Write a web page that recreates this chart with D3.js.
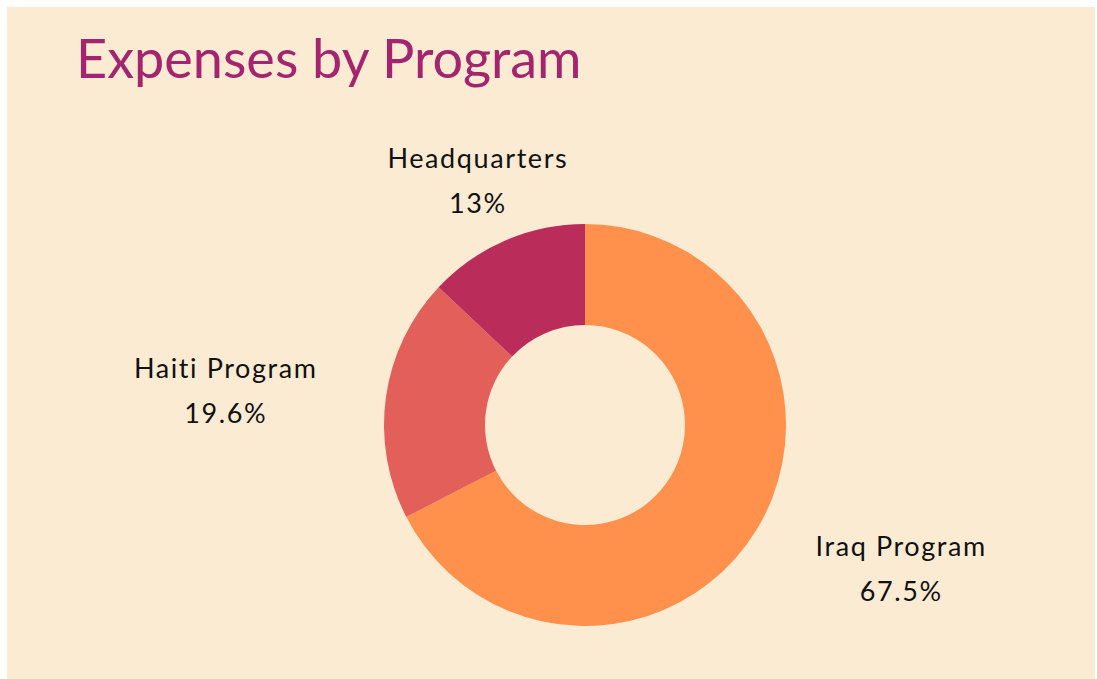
<!DOCTYPE html>
<html>
<head>
<meta charset="utf-8">
<script src="https://cdn.jsdelivr.net/npm/d3@7"></script>
<style>
    html, body { margin: 0; padding: 0; background: #ffffff; }
    svg { display: block; }
</style>
</head>
<body>
<svg id="chart" width="1097" height="679"></svg>
<script>
// data
const categories = ["Iraq Program", "Haiti Program", "Headquarters"];
const shares     = [67.5, 19.6, 13];
const shareText  = ["67.5%", "19.6%", "13%"];
const colours    = ["#FF914D", "#E3605A", "#BA2D5B"];

const W = 1097, H = 679;
const cx = 585, cy = 425;
const outerR = 201, innerR = 100;
const labelR = 270;

const svg = d3.select('#chart');

// cream card
svg.append('rect')
    .attr('x', 7).attr('y', 7)
    .attr('width', W - 9).attr('height', H - 7)
    .attr('fill', '#FCEBD3')
    ;

svg.append('text')
    .attr('x', 76)
    .attr('y', 78)
    .attr('fill', '#A3246F')
    .attr('font-family', 'Lato, sans-serif')
    .attr('font-size', 54)
    .text('Expenses by Program')
    ;

const pie = d3.pie()
    .sort(null)
    .value(d => d.v)
    ;

const arc = d3.arc()
    .innerRadius(innerR)
    .outerRadius(outerR)
    ;

const rows = categories.map((c, i) => ({ name: c, v: shares[i], txt: shareText[i], col: colours[i] }));
const arcs = pie(rows);

const g = svg.append('g')
    .attr('transform', `translate(${cx},${cy})`)
    ;

g.selectAll('path')
    .data(arcs)
    .join('path')
    .attr('d', arc)
    .attr('fill', d => d.data.col)
    ;

// labels: two centred lines, block hung off a point on a bigger circle
arcs.forEach(function(d) {
    let a = (d.startAngle + d.endAngle) / 2;
    let px = Math.sin(a) * labelR;
    let py = -Math.cos(a) * labelR;

    let lg = g.append('g');
    let t1 = lg.append('text')
        .attr('text-anchor', 'middle')
        .attr('font-family', 'Lato, sans-serif')
        .attr('font-size', 27)
        .attr('letter-spacing', 1.6)
        .attr('fill', '#111111')
        .attr('y', 0)
        .text(d.data.name)
        ;
    let t2 = lg.append('text')
        .attr('text-anchor', 'middle')
        .attr('font-family', 'Lato, sans-serif')
        .attr('font-size', 27)
        .attr('letter-spacing', 1.6)
        .attr('fill', '#111111')
        .attr('y', 45)
        .text(d.data.txt)
        ;
    let w = Math.max(t1.node().getComputedTextLength(), t2.node().getComputedTextLength());
    let mx = px;
    if (Math.abs(Math.sin(a)) > 0.5) mx = px + (Math.sin(a) > 0 ? w / 2 : -w / 2);
    lg.attr('transform', `translate(${mx},${py - 9.5})`);
});
</script>
</body>
</html>
